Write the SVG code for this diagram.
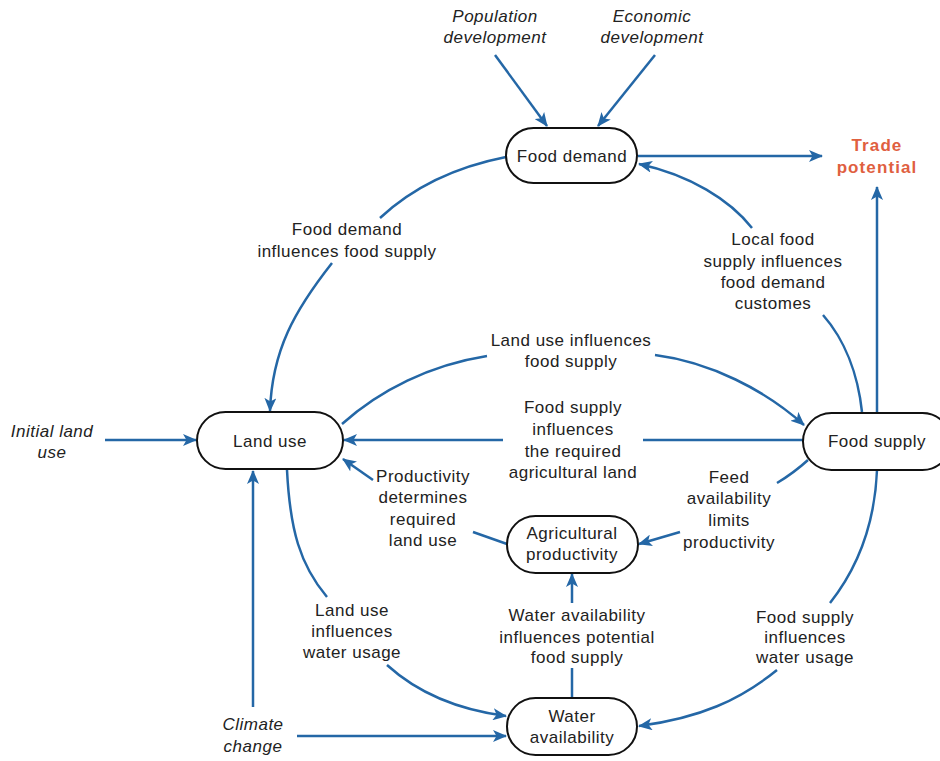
<svg xmlns="http://www.w3.org/2000/svg" width="940" height="761" viewBox="0 0 940 761">
<style>
text{font-family:"Liberation Sans",Arial,sans-serif;font-size:17px;fill:#222;text-anchor:middle;letter-spacing:0.5px}
.it{font-style:italic}
.trade{font-weight:bold;fill:#e0603f;letter-spacing:1.1px}
.node{fill:#fff;stroke:#111;stroke-width:2}
.c{fill:none;stroke:#2467a6;stroke-width:2.5}
.a{marker-end:url(#ah)}
</style>
<defs>
<marker id="ah" markerUnits="userSpaceOnUse" markerWidth="14" markerHeight="12" refX="13" refY="6" orient="auto">
<path d="M0,0 L14,6 L0,12 L3.5,6 Z" fill="#2467a6"/>
</marker>
</defs>
<rect width="940" height="761" fill="#fff"/>
<g id="connectors">
<path class="c a" d="M495,55 L547,126"/>
<path class="c a" d="M655,55 L598,126"/>
<path class="c a" d="M638,156 L822,156"/>
<path class="c a" d="M877,413 L877,187"/>
<path class="c" d="M862,412 C858,375 845,340 823,315"/>
<path class="c a" d="M752,228 C730,200 690,175 639,164"/>
<path class="c" d="M506,157 C450,168 410,190 380,218"/>
<path class="c a" d="M332,263 C295,310 272,350 270,411"/>
<path class="c" d="M342,424 C380,390 430,365 487,356"/>
<path class="c a" d="M655,355 C710,362 765,390 804,425"/>
<path class="c" d="M803,440 L643,440"/>
<path class="c a" d="M503,440 L344,440"/>
<path class="c a" d="M105,440 L196,440"/>
<path class="c a" d="M373,480 L343,459"/>
<path class="c" d="M507,544 L473,532"/>
<path class="c" d="M808,460 C797,470 787,477 777,483"/>
<path class="c a" d="M680,532 L639,544"/>
<path class="c" d="M572,698 L572,668"/>
<path class="c a" d="M572,603 L572,574"/>
<path class="c" d="M287,470 C290,530 300,565 327,597"/>
<path class="c a" d="M387,665 C420,695 460,710 506,716"/>
<path class="c a" d="M253,707 L253,471"/>
<path class="c a" d="M297,736 L506,736"/>
<path class="c" d="M877,470 C875,520 860,565 830,603"/>
<path class="c a" d="M777,670 C740,700 700,718 639,726"/>
</g>
<g id="food-demand">
<rect class="node" x="506" y="128" width="131" height="55" rx="27.5"/>
<text x="572" y="162">Food demand</text>
</g>
<g id="land-use">
<rect class="node" x="197" y="412" width="146" height="57" rx="28.5"/>
<text x="270" y="447">Land use</text>
</g>
<g id="food-supply">
<rect class="node" x="803" y="413" width="148" height="57" rx="28.5"/>
<text x="877" y="447">Food supply</text>
</g>
<g id="agricultural-productivity">
<rect class="node" x="507" y="516" width="131" height="57" rx="28.5"/>
<text x="572" y="539">Agricultural</text>
<text x="572" y="560">productivity</text>
</g>
<g id="water-availability">
<rect class="node" x="507" y="698" width="130" height="57" rx="28.5"/>
<text x="572" y="722">Water</text>
<text x="572" y="743">availability</text>
</g>
<g id="population-development">
<text class="it" x="495" y="22">Population</text>
<text class="it" x="495" y="43">development</text>
</g>
<g id="economic-development">
<text class="it" x="652" y="22">Economic</text>
<text class="it" x="652" y="43">development</text>
</g>
<g id="trade-potential">
<text class="trade" x="877" y="151">Trade</text>
<text class="trade" x="877" y="173">potential</text>
</g>
<g id="initial-land-use">
<text class="it" x="52" y="437">Initial land</text>
<text class="it" x="52" y="458">use</text>
</g>
<g id="climate-change">
<text class="it" x="253" y="730">Climate</text>
<text class="it" x="253" y="752">change</text>
</g>
<g id="labels">
<text x="347" y="235">Food demand</text>
<text x="347" y="257">influences food supply</text>
<text x="773" y="245">Local food</text>
<text x="773" y="267">supply influences</text>
<text x="773" y="288">food demand</text>
<text x="773" y="309">customes</text>
<text x="571" y="346">Land use influences</text>
<text x="571" y="367">food supply</text>
<text x="573" y="413">Food supply</text>
<text x="573" y="435">influences</text>
<text x="573" y="457">the required</text>
<text x="573" y="478">agricultural land</text>
<text x="423" y="482">Productivity</text>
<text x="423" y="503">determines</text>
<text x="423" y="525">required</text>
<text x="423" y="546">land use</text>
<text x="729" y="483">Feed</text>
<text x="729" y="504">availability</text>
<text x="729" y="526">limits</text>
<text x="729" y="548">productivity</text>
<text x="577" y="621">Water availability</text>
<text x="577" y="643">influences potential</text>
<text x="577" y="663">food supply</text>
<text x="352" y="616">Land use</text>
<text x="352" y="637">influences</text>
<text x="352" y="658">water usage</text>
<text x="805" y="623">Food supply</text>
<text x="805" y="643">influences</text>
<text x="805" y="663">water usage</text>
</g>
</svg>
